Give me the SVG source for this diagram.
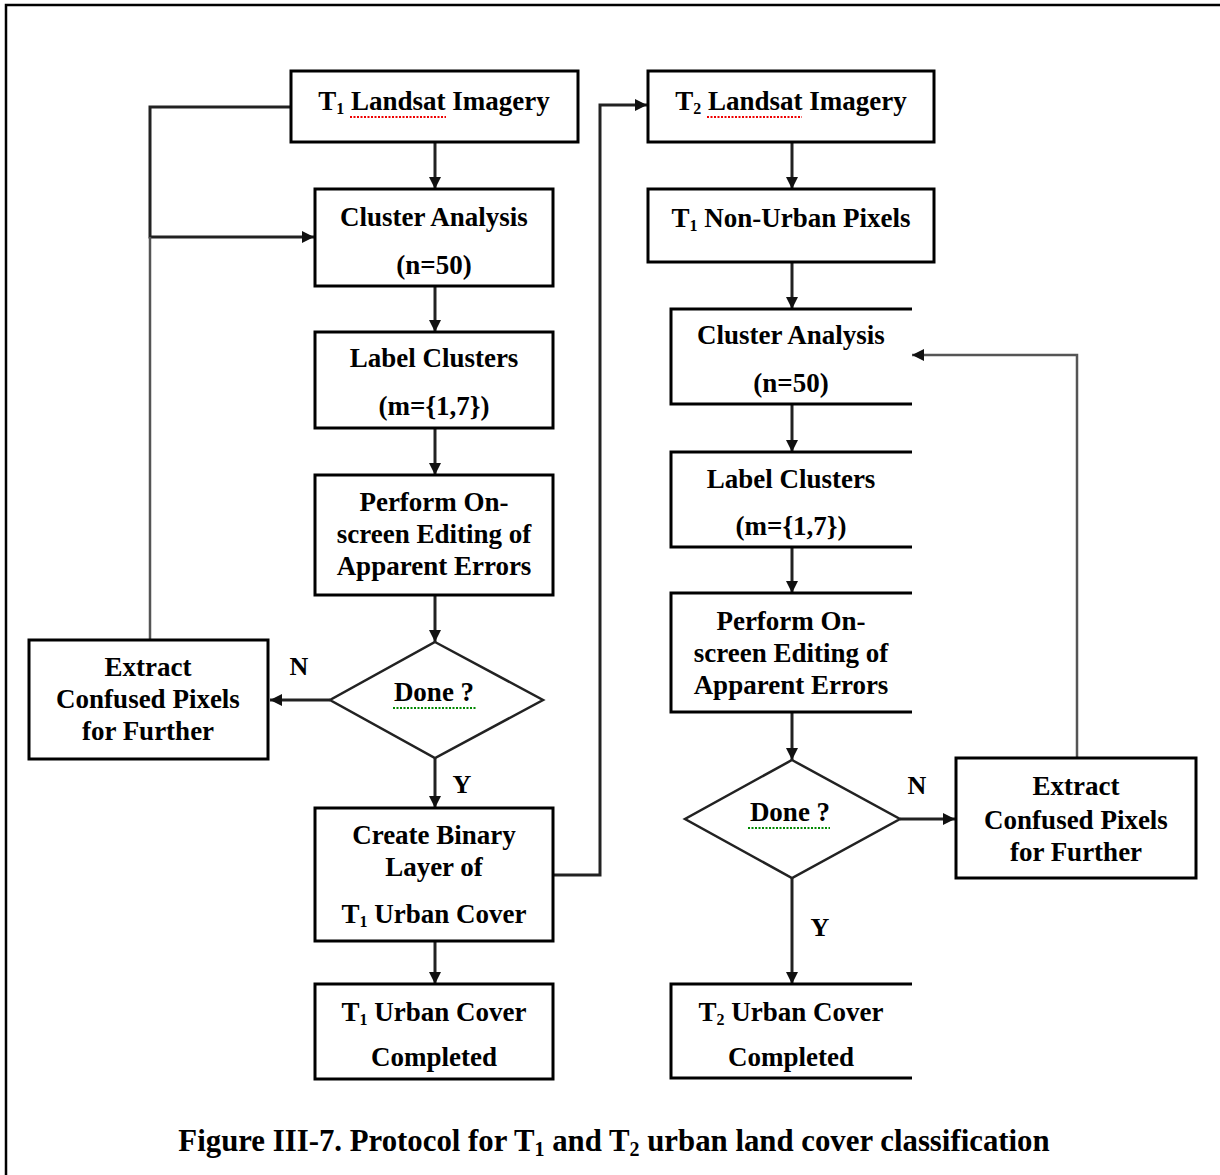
<svg xmlns="http://www.w3.org/2000/svg" width="1220" height="1175" viewBox="0 0 1220 1175">
<defs>
<marker id="ah" viewBox="0 0 10 10" refX="10" refY="5" markerWidth="13" markerHeight="12" orient="auto" markerUnits="userSpaceOnUse">
<path d="M0,0 L10,5 L0,10 Z" fill="#111"/>
</marker>
<style>
.box{fill:#fff;stroke:#000;stroke-width:3}
.open{fill:none;stroke:#000;stroke-width:3}
.dia{fill:#fff;stroke:#222;stroke-width:2.5}
.t{font-family:"Liberation Serif",serif;font-weight:bold;font-size:27px;fill:#000;text-anchor:middle}
.lbl{font-family:"Liberation Serif",serif;font-weight:bold;font-size:26px;fill:#000;text-anchor:middle}
.c{fill:none;stroke:#222;stroke-width:3}
.g{fill:none;stroke:#555;stroke-width:2.5}
.sub{font-size:16px}
.cap{font-family:"Liberation Serif",serif;font-weight:bold;font-size:30.8px;fill:#000;text-anchor:middle}
.red{fill:none;stroke:#e00;stroke-width:2;stroke-dasharray:2 1.5}
.grn{fill:none;stroke:#080;stroke-width:2;stroke-dasharray:2 1.5}
</style>
</defs>
<rect width="1220" height="1175" fill="#fff"/>
<path d="M6,1175 V5 H1220" fill="none" stroke="#000" stroke-width="2.5"/>

<g id="connectors">
<line class="c" x1="435" y1="142" x2="435" y2="189" marker-end="url(#ah)"/>
<line class="c" x1="435" y1="286" x2="435" y2="332" marker-end="url(#ah)"/>
<line class="c" x1="435" y1="428" x2="435" y2="475" marker-end="url(#ah)"/>
<line class="c" x1="435" y1="595" x2="435" y2="642" marker-end="url(#ah)"/>
<line class="c" x1="330" y1="700" x2="270" y2="700" marker-end="url(#ah)"/>
<line class="c" x1="435" y1="758" x2="435" y2="808" marker-end="url(#ah)"/>
<line class="c" x1="435" y1="941" x2="435" y2="984" marker-end="url(#ah)"/>
<polyline class="c" points="291,107 150,107 150,237 314,237" marker-end="url(#ah)"/>
<line class="g" x1="150" y1="640" x2="150" y2="237"/>
<polyline class="c" points="553,875 600,875 600,105 647,105" marker-end="url(#ah)"/>
<line class="c" x1="792" y1="142" x2="792" y2="189" marker-end="url(#ah)"/>
<line class="c" x1="792" y1="262" x2="792" y2="309" marker-end="url(#ah)"/>
<line class="c" x1="792" y1="404" x2="792" y2="452" marker-end="url(#ah)"/>
<line class="c" x1="792" y1="547" x2="792" y2="593" marker-end="url(#ah)"/>
<line class="c" x1="792" y1="712" x2="792" y2="760" marker-end="url(#ah)"/>
<line class="c" x1="792" y1="878" x2="792" y2="984" marker-end="url(#ah)"/>
<line class="c" x1="900" y1="819" x2="955" y2="819" marker-end="url(#ah)"/>
<polyline class="g" points="1077,758 1077,355 912,355" marker-end="url(#ah)"/>
<text class="lbl" x="299" y="675">N</text>
<text class="lbl" x="462" y="793">Y</text>
<text class="lbl" x="917" y="794">N</text>
<text class="lbl" x="820" y="936">Y</text>
</g>

<g id="t1-landsat">
<rect class="box" x="291" y="71" width="287" height="71"/>
<text class="t" x="434" y="110">T<tspan class="sub" dy="4">1</tspan><tspan dy="-4"> Landsat Imagery</tspan></text>
<path class="red" d="M350,117 H446"/>
</g>
<g id="t1-cluster">
<rect class="box" x="315" y="189" width="238" height="97"/>
<text class="t" x="434" y="226">Cluster Analysis</text>
<text class="t" x="434" y="274">(n=50)</text>
</g>
<g id="t1-label">
<rect class="box" x="315" y="332" width="238" height="96"/>
<text class="t" x="434" y="367">Label Clusters</text>
<text class="t" x="434" y="415">(m={1,7})</text>
</g>
<g id="t1-edit">
<rect class="box" x="315" y="475" width="238" height="120"/>
<text class="t" x="434" y="511">Perform On-</text>
<text class="t" x="434" y="543">screen Editing of</text>
<text class="t" x="434" y="575">Apparent Errors</text>
</g>
<g id="t1-done">
<polygon class="dia" points="435,642 543,700 435,758 330,700"/>
<text class="t" x="434" y="701">Done ?</text>
<path class="grn" d="M393,708 H476"/>
</g>
<g id="t1-extract">
<rect class="box" x="29" y="640" width="239" height="119"/>
<text class="t" x="148" y="676">Extract</text>
<text class="t" x="148" y="708">Confused Pixels</text>
<text class="t" x="148" y="740">for Further</text>
</g>
<g id="t1-binary">
<rect class="box" x="315" y="808" width="238" height="133"/>
<text class="t" x="434" y="844">Create Binary</text>
<text class="t" x="434" y="876">Layer of</text>
<text class="t" x="434" y="923">T<tspan class="sub" dy="4">1</tspan><tspan dy="-4"> Urban Cover</tspan></text>
</g>
<g id="t1-complete">
<rect class="box" x="315" y="984" width="238" height="95"/>
<text class="t" x="434" y="1021">T<tspan class="sub" dy="4">1</tspan><tspan dy="-4"> Urban Cover</tspan></text>
<text class="t" x="434" y="1066">Completed</text>
</g>

<g id="t2-landsat">
<rect class="box" x="648" y="71" width="286" height="71"/>
<text class="t" x="791" y="110">T<tspan class="sub" dy="4">2</tspan><tspan dy="-4"> Landsat Imagery</tspan></text>
<path class="red" d="M707,117 H802"/>
</g>
<g id="t2-nonurban">
<rect class="box" x="648" y="189" width="286" height="73"/>
<text class="t" x="791" y="227">T<tspan class="sub" dy="4">1</tspan><tspan dy="-4"> Non-Urban Pixels</tspan></text>
</g>
<g id="t2-cluster">
<path class="open" d="M912,309 H671 V404 H912"/>
<text class="t" x="791" y="344">Cluster Analysis</text>
<text class="t" x="791" y="392">(n=50)</text>
</g>
<g id="t2-label">
<path class="open" d="M912,452 H671 V547 H912"/>
<text class="t" x="791" y="488">Label Clusters</text>
<text class="t" x="791" y="535">(m={1,7})</text>
</g>
<g id="t2-edit">
<path class="open" d="M912,593 H671 V712 H912"/>
<text class="t" x="791" y="630">Perform On-</text>
<text class="t" x="791" y="662">screen Editing of</text>
<text class="t" x="791" y="694">Apparent Errors</text>
</g>
<g id="t2-done">
<polygon class="dia" points="792,760 900,819 792,878 685,819"/>
<text class="t" x="790" y="821">Done ?</text>
<path class="grn" d="M748,828 H830"/>
</g>
<g id="t2-extract">
<rect class="box" x="956" y="758" width="240" height="120"/>
<text class="t" x="1076" y="795">Extract</text>
<text class="t" x="1076" y="829">Confused Pixels</text>
<text class="t" x="1076" y="861">for Further</text>
</g>
<g id="t2-complete">
<path class="open" d="M912,984 H671 V1078 H912"/>
<text class="t" x="791" y="1021">T<tspan class="sub" dy="4">2</tspan><tspan dy="-4"> Urban Cover</tspan></text>
<text class="t" x="791" y="1066">Completed</text>
</g>

<text class="cap" x="614" y="1151">Figure III-7. Protocol for T<tspan font-size="20" dy="5">1</tspan><tspan dy="-5"> and T</tspan><tspan font-size="20" dy="5">2</tspan><tspan dy="-5"> urban land cover classification</tspan></text>
</svg>
